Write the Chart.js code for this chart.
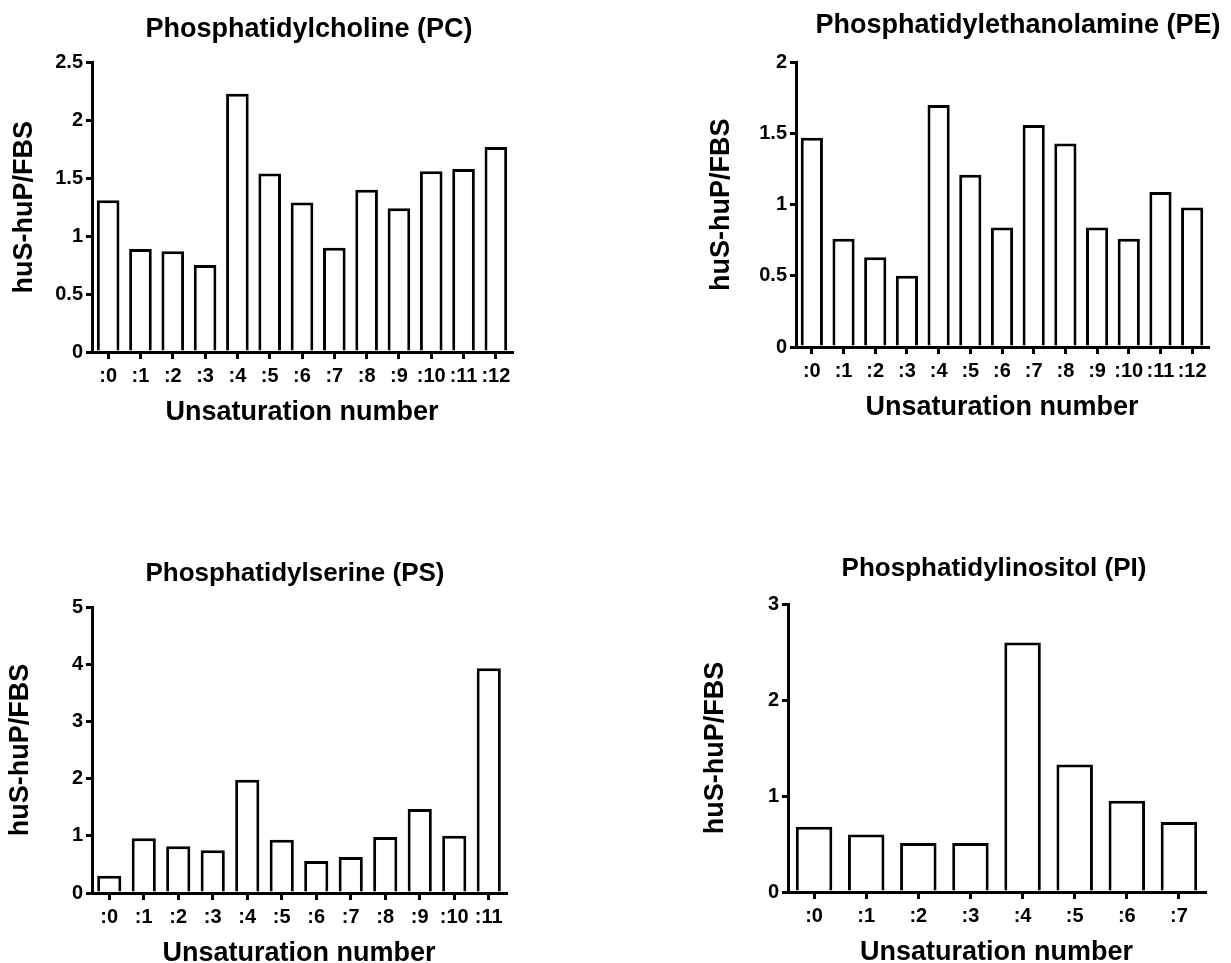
<!DOCTYPE html>
<html>
<head>
<meta charset="utf-8">
<script src="https://cdn.jsdelivr.net/npm/chart.js@4.4.1/dist/chart.umd.min.js"></script>
<style>
  html, body { margin: 0; padding: 0; background: #fff; overflow: hidden; }
  body { width: 1231px; height: 963px; position: relative; }
  canvas { position: absolute; }
</style>
</head>
<body>
<canvas id="chartPC"></canvas>
<canvas id="chartPE"></canvas>
<canvas id="chartPS"></canvas>
<canvas id="chartPI"></canvas>
<script>
/* ---------- Données ---------- */
const labelsPC = [":0", ":1", ":2", ":3", ":4", ":5", ":6", ":7", ":8", ":9", ":10", ":11", ":12"];
const valuesPC = [1.31, 0.89, 0.87, 0.75, 2.23, 1.54, 1.29, 0.90, 1.40, 1.24, 1.56, 1.58, 1.77];

const labelsPE = [":0", ":1", ":2", ":3", ":4", ":5", ":6", ":7", ":8", ":9", ":10", ":11", ":12"];
const valuesPE = [1.47, 0.76, 0.63, 0.50, 1.70, 1.21, 0.84, 1.56, 1.43, 0.84, 0.76, 1.09, 0.98];

const labelsPS = [":0", ":1", ":2", ":3", ":4", ":5", ":6", ":7", ":8", ":9", ":10", ":11"];
const valuesPS = [0.30, 0.96, 0.82, 0.75, 1.98, 0.93, 0.56, 0.63, 0.98, 1.47, 1.00, 3.93];

const labelsPI = [":0", ":1", ":2", ":3", ":4", ":5", ":6", ":7"];
const valuesPI = [0.68, 0.60, 0.51, 0.51, 2.60, 1.33, 0.95, 0.73];

const yAxisTitle = "huS-huP/FBS";
const xAxisTitle = "Unsaturation number";
const FONT = "'Liberation Sans', Arial, Helvetica, sans-serif";

/* ---------- Un histogramme ---------- */
function renderBarChart(id, title, labels, values, yMax, yStep, box) {
    const canvas = document.getElementById(id);
    canvas.width = box.w;
    canvas.height = box.h;
    canvas.style.left = box.left + "px";
    canvas.style.top = box.top + "px";

    new Chart(canvas, {
        type: "bar",
        data: {
            labels: labels,
            datasets: [{
                data: values,
                backgroundColor: "#ffffff",
                borderColor: "#000000",
                borderWidth: 3,
                barPercentage: 0.7,
                categoryPercentage: 1.0
            }]
        },
        options: {
            responsive: false,
            animation: false,
            devicePixelRatio: 1,
            layout: { padding: 0 },
            plugins: {
                legend: { display: false },
                tooltip: { enabled: false },
                title: {
                    display: true,
                    text: title,
                    color: "#000",
                    font: { family: FONT, size: box.tSize, weight: "bold" },
                    padding: { top: box.tTop, bottom: box.tBottom }
                }
            },
            scales: {
                x: {
                    offset: true,
                    grid: { display: true, offset: false, drawOnChartArea: false, drawTicks: true,
                            tickLength: 7, color: "#000", lineWidth: 3 },
                    border: { display: true, color: "#000", width: 3 },
                    ticks: { color: "#000", padding: 5, maxRotation: 0, autoSkip: false,
                             font: { family: FONT, size: 20, weight: "bold" } },
                    title: { display: true, text: xAxisTitle, color: "#000",
                             font: { family: FONT, size: 27, weight: "bold" },
                             padding: { top: 0, bottom: 3 } },
                    afterFit: s => { s.height = 80; }
                },
                y: {
                    min: 0,
                    max: yMax,
                    grid: { display: true, drawOnChartArea: false, drawTicks: true,
                            tickLength: 6, color: "#000", lineWidth: 3 },
                    border: { display: true, color: "#000", width: 3 },
                    ticks: { stepSize: yStep, color: "#000", padding: 3,
                             callback: v => String(Number(v.toFixed(2))),
                             font: { family: FONT, size: 20, weight: "bold" } },
                    title: { display: true, text: yAxisTitle, color: "#000",
                             font: { family: FONT, size: 27, weight: "bold" },
                             padding: { top: box.yPad, bottom: 0 } },
                    afterFit: s => { s.width = box.yW; }
                },
                pad: {
                    type: "linear",
                    position: "right",
                    display: true,
                    grid: { display: false },
                    border: { display: false },
                    ticks: { display: false },
                    afterFit: s => { s.width = box.rW; }
                }
            }
        }
    });
}

/* ---------- Les quatre panneaux ---------- */
renderBarChart("chartPC", "Phosphatidylcholine (PC)", labelsPC, valuesPC, 2.5, 0.5,
    { left: 0, top: 0, w: 618, h: 432, yW: 92, rW: 106, yPad: 8, tSize: 27, tTop: 13, tBottom: 17 });

renderBarChart("chartPE", "Phosphatidylethanolamine (PE)", labelsPE, valuesPE, 2, 0.5,
    { left: 696, top: 0, w: 644, h: 427, yW: 100, rW: 132, yPad: 9, tSize: 27, tTop: 9, tBottom: 21 });

renderBarChart("chartPS", "Phosphatidylserine (PS)", labelsPS, valuesPS, 5, 1,
    { left: 0, top: 540, w: 590, h: 433, yW: 92, rW: 84, yPad: 4, tSize: 26, tTop: 18, tBottom: 18 });

renderBarChart("chartPI", "Phosphatidylinositol (PI)", labelsPI, valuesPI, 3, 1,
    { left: 688, top: 535, w: 612, h: 437, yW: 100, rW: 95, yPad: 11, tSize: 26, tTop: 18, tBottom: 20 });
</script>
</body>
</html>
